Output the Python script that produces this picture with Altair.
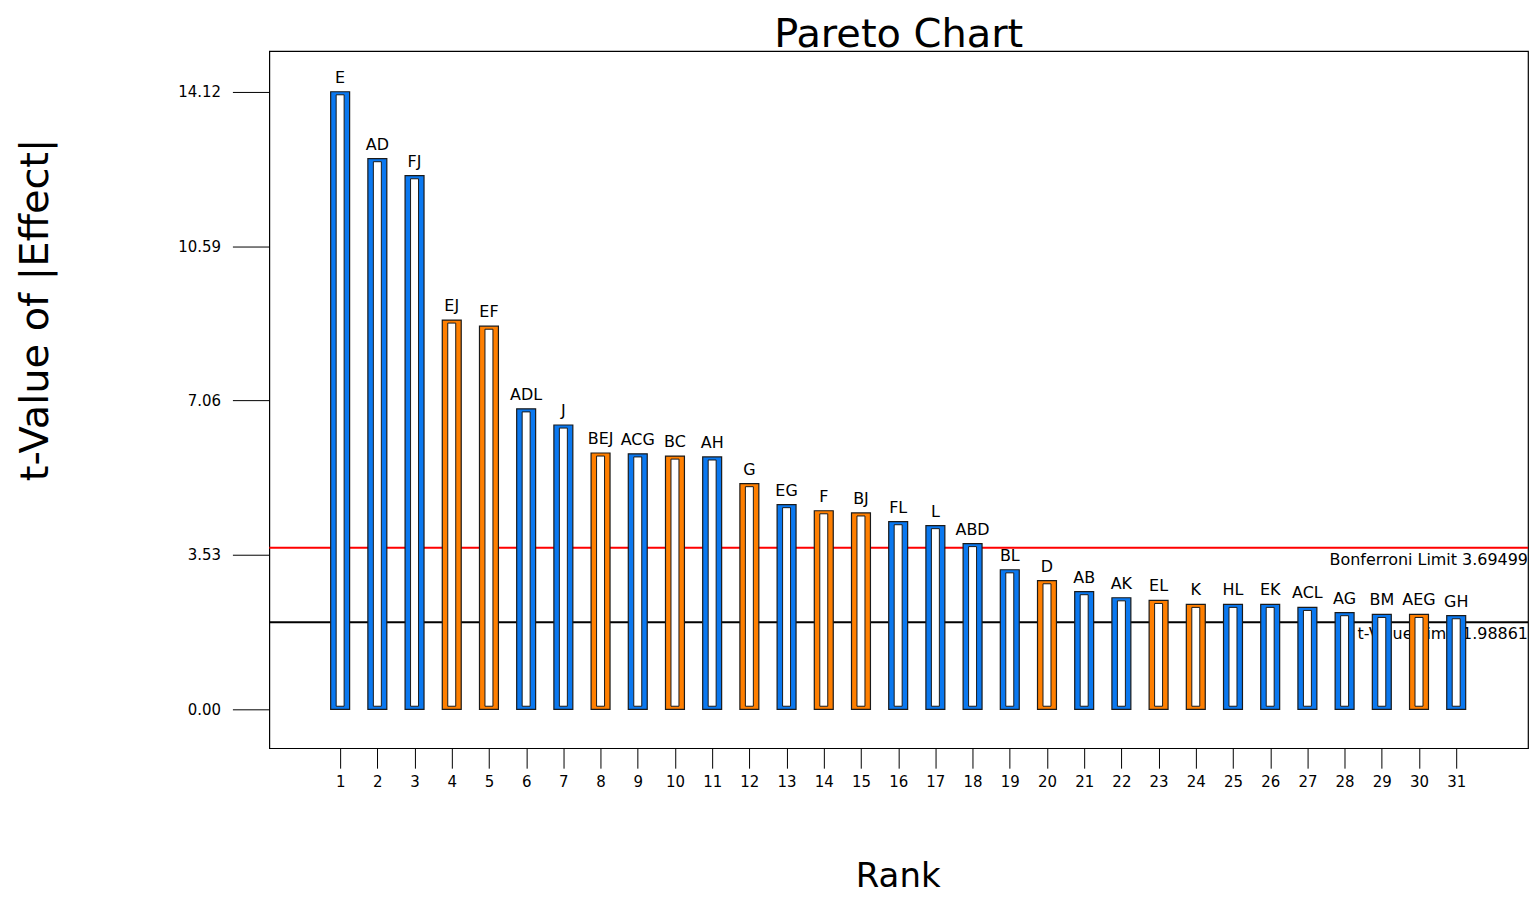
import altair as alt
import pandas as pd

ranks = list(range(1, 32))
effects = ["E", "AD", "FJ", "EJ", "EF", "ADL", "J", "BEJ", "ACG", "BC", "AH", "G", "EG", "F", "BJ",
           "FL", "L", "ABD", "BL", "D", "AB", "AK", "EL", "K", "HL", "EK", "ACL", "AG", "BM", "AEG", "GH"]
t_values = [14.12, 12.59, 12.20, 8.90, 8.76, 6.87, 6.50, 5.86, 5.84, 5.79, 5.77, 5.16, 4.68, 4.54, 4.49,
            4.29, 4.20, 3.79, 3.19, 2.94, 2.69, 2.55, 2.49, 2.40, 2.40, 2.40, 2.33, 2.21, 2.17, 2.17, 2.14]
groups = ["b", "b", "b", "o", "o", "b", "b", "o", "b", "o", "b", "o", "b", "o", "o",
          "b", "b", "b", "b", "o", "b", "b", "o", "o", "b", "b", "b", "b", "b", "o", "b"]
y_ticks = [0.00, 3.53, 7.06, 10.59, 14.12]
bonferroni = 3.69499
t_limit = 1.98861

inset = 0.07
df = pd.DataFrame({"rank": ranks, "effect": effects, "t": t_values, "grp": groups})
df["inner_top"] = df["t"] - inset
df["inner_bot"] = inset

FONT = "DejaVu Sans"
xs = alt.Scale(domain=[-0.904, 32.93], nice=False, zero=False, padding=0)
ys = alt.Scale(domain=[-0.89, 15.05], nice=False, zero=False, padding=0)

lim_df = pd.DataFrame({
    "y": [bonferroni, t_limit],
    "label": [f"Bonferroni Limit {bonferroni}", f"t-Value Limit {t_limit}"],
    "col": ["red", "black"],
    "x": [32.93, 32.93],
})

lines = alt.Chart(lim_df).mark_rule(strokeWidth=2).encode(
    y=alt.Y("y:Q", scale=ys),
    color=alt.Color("col:N", scale=None),
)
lim_text = alt.Chart(lim_df).mark_text(align="right", baseline="top", dy=4, fontSize=16,
                                         font=FONT, color="black").encode(
    x=alt.X("x:Q", scale=xs),
    y=alt.Y("y:Q", scale=ys),
    text="label:N",
)

outer = alt.Chart(df).mark_bar(size=19, stroke="#1a1a1a", strokeWidth=1.2).encode(
    x=alt.X("rank:Q", scale=xs,
            axis=alt.Axis(values=ranks, format="d", tickSize=20, labelPadding=6, domain=False,
                          grid=False, labelFontSize=15, labelFont=FONT, labelColor="black",
                          tickColor="black", title="Rank", titleFontSize=34, titleFont=FONT,
                          titleFontWeight="normal", titleX=630, titleY=139,
                          titleBaseline="alphabetic", titleAlign="center", titleColor="black")),
    y=alt.Y("t:Q", scale=ys,
            axis=alt.Axis(values=y_ticks, format=".2f", tickSize=37, labelPadding=12, domain=False,
                          grid=False, labelFontSize=15, labelFont=FONT, labelColor="black",
                          tickColor="black", title="t-Value of |Effect|", titleFontSize=40,
                          titleFont=FONT, titleFontWeight="normal", titleAngle=-90,
                          titleX=-234, titleY=259, titleBaseline="middle", titleAlign="center",
                          titleColor="black")),
    y2=alt.Y2(datum=0),
    color=alt.Color("grp:N", scale=alt.Scale(domain=["b", "o"], range=["#0a78f0", "#ff7f00"]),
                    legend=None),
)

inner = alt.Chart(df).mark_bar(size=8, color="white", stroke="#1a1a1a", strokeWidth=1).encode(
    x=alt.X("rank:Q", scale=xs),
    y=alt.Y("inner_top:Q", scale=ys),
    y2="inner_bot:Q",
)

labels = alt.Chart(df).mark_text(baseline="alphabetic", dy=-9, fontSize=16, font=FONT,
                                   color="black").encode(
    x=alt.X("rank:Q", scale=xs),
    y=alt.Y("t:Q", scale=ys),
    text="effect:N",
)

chart = alt.layer(lines, lim_text, outer, inner, labels).properties(
    width=1262, height=699,
    background="white",
    title=alt.Title("Pareto Chart", fontSize=40, font=FONT, fontWeight="normal", color="black",
                    anchor="middle", offset=-4),
    padding={"left": 262, "top": 42, "right": 2, "bottom": 148},
    autosize=alt.AutoSizeParams(type="none"),
).configure_view(stroke="black", strokeWidth=1.2)

chart.save("out.html", embed_options={"renderer": "svg", "actions": False})
